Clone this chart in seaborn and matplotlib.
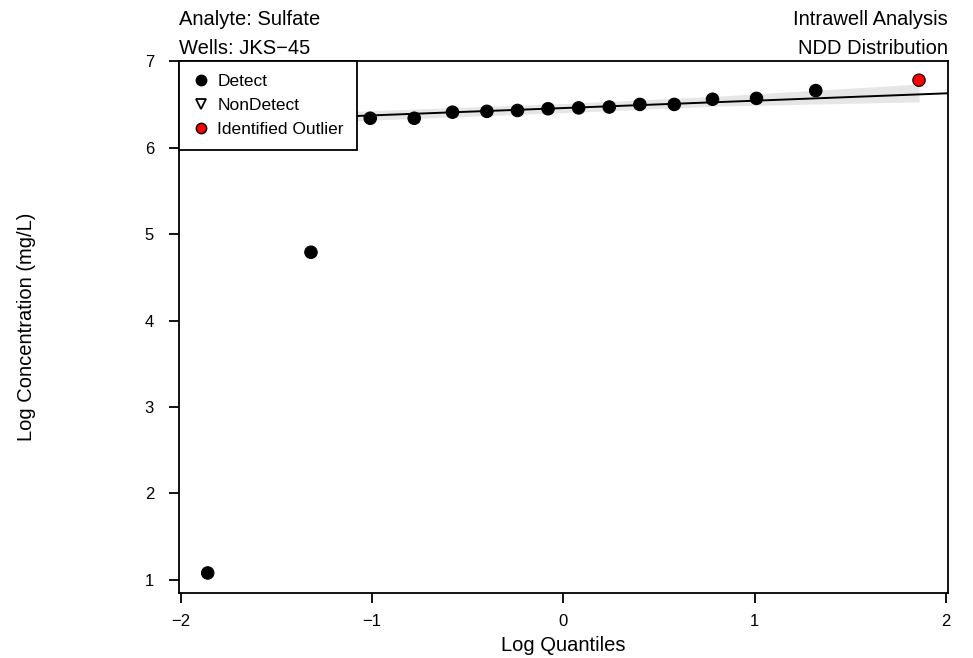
import numpy as np
import pandas as pd
import matplotlib
matplotlib.use("Agg")
import matplotlib.pyplot as plt
import seaborn as sns
from matplotlib.lines import Line2D

# Quantile plot values
log_quantiles = [-1.86, -1.32, -1.01, -0.78, -0.58, -0.40, -0.24, -0.08,
                 0.08, 0.24, 0.40, 0.58, 0.78, 1.01, 1.32, 1.86]
log_conc = [1.08, 4.79, 6.34, 6.34, 6.41, 6.42, 6.43, 6.45,
            6.46, 6.47, 6.50, 6.50, 6.56, 6.57, 6.66, 6.78]
status = ['Detect'] * 15 + ['Identified Outlier']

# fitted line and its band
fit_intercept = 6.458
fit_slope = 0.085
band_x = [-1.10, 0.0, 0.80, 1.86]
band_lo = [6.31, 6.405, 6.48, 6.53]
band_hi = [6.42, 6.51, 6.595, 6.735]

x_ticks = [-2, -1, 0, 1, 2]
y_ticks = [1, 2, 3, 4, 5, 6, 7]
legend_labels = ['Detect', 'NonDetect', 'Identified Outlier']

df = pd.DataFrame({'q': log_quantiles, 'conc': log_conc, 'status': status})

sns.set_style("ticks")
plt.rcParams['font.family'] = ['Liberation Sans', 'DejaVu Sans']
plt.rcParams['axes.linewidth'] = 1.3
plt.rcParams['text.color'] = 'black'

fig = plt.figure(figsize=(9.73, 6.58), dpi=100)
ax = fig.add_axes([0.184, 0.099, 0.79, 0.808])

ax.fill_between(band_x, band_lo, band_hi, color='#e6e6e6', linewidth=0, zorder=1)
ax.axline((0, fit_intercept), slope=fit_slope, color='black', linewidth=1.4, zorder=2)

sns.scatterplot(data=df, x='q', y='conc', hue='status',
                palette={'Detect': 'black', 'Identified Outlier': 'red'},
                edgecolor='black', linewidth=0.8, s=80, legend=False, ax=ax, zorder=3)

ax.set_xlim(-2.01, 2.01)
ax.set_ylim(0.85, 7.0)
ax.set_xticks(x_ticks)
ax.set_yticks(y_ticks)
ax.set_xticklabels([str(t).replace('-', '\u2212') for t in x_ticks])
ax.tick_params(axis='both', length=7, width=1.3, labelsize=12, color='black', labelcolor='black')
ax.tick_params(axis='x', pad=8)
ax.tick_params(axis='y', pad=11)
for sp in ax.spines.values():
    sp.set_color('black')

ax.set_xlabel('Log Quantiles', fontsize=14.5, labelpad=5, color='black')
ax.set_ylabel('Log Concentration (mg/L)', fontsize=14.5, labelpad=78, color='black')

ax.text(0, 1.013, 'Wells: JKS\u221245', transform=ax.transAxes, ha='left', va='baseline', fontsize=14.5)
ax.text(0, 1.068, 'Analyte: Sulfate', transform=ax.transAxes, ha='left', va='baseline', fontsize=14.5)
ax.text(1, 1.013, 'NDD Distribution', transform=ax.transAxes, ha='right', va='baseline', fontsize=14.5)
ax.text(1, 1.068, 'Intrawell Analysis', transform=ax.transAxes, ha='right', va='baseline', fontsize=14.5)

handles = [
    Line2D([], [], marker='o', linestyle='', markerfacecolor='black', markeredgecolor='black', markersize=7.5),
    Line2D([], [], marker='v', linestyle='', markerfacecolor='white', markeredgecolor='black',
           markersize=7.5, markeredgewidth=1.3),
    Line2D([], [], marker='o', linestyle='', markerfacecolor='red', markeredgecolor='black', markersize=7.5),
]
leg = ax.legend(handles, legend_labels, loc='upper left', bbox_to_anchor=(0, 1),
                fontsize=12.5, frameon=True, fancybox=False, borderaxespad=0,
                handletextpad=0.45, handlelength=1.0, borderpad=0.75, labelspacing=0.5)
leg.get_frame().set_edgecolor('black')
leg.get_frame().set_linewidth(1.3)
leg.get_frame().set_alpha(1)
leg.set_zorder(5)

fig.savefig('out.png', dpi=100)
